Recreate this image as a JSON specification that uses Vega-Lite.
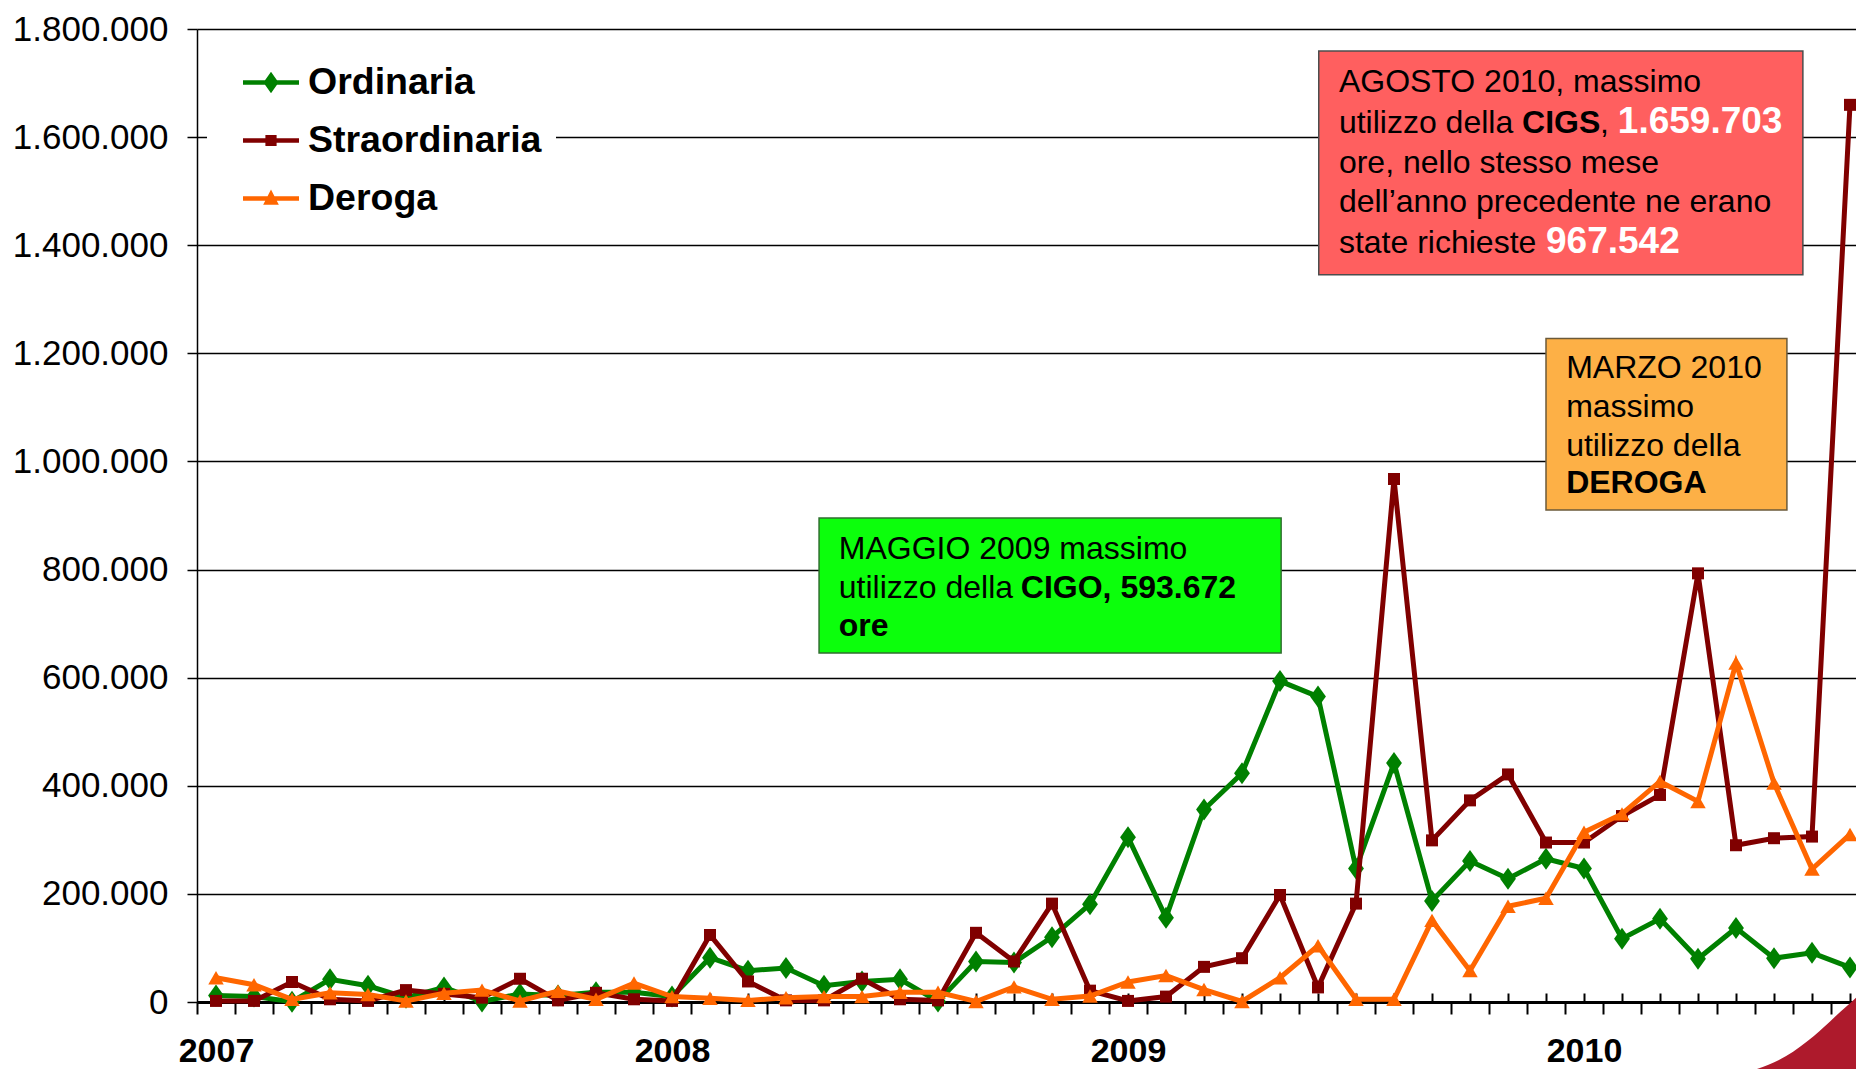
{
  "$schema": "https://vega.github.io/schema/vega-lite/v6.json",
  "width": 1659,
  "height": 973,
  "autosize": {"type": "none"},
  "padding": {"left": 197, "top": 29, "right": 0, "bottom": 67},
  "background": "white",
  "config": {
    "locale": {"number": {"decimal": ",", "thousands": ".", "grouping": [3], "currency": ["€", ""]}},
    "view": {"stroke": null},
    "font": "Liberation Sans"
  },
  "resolve": {"axis": {"x": "independent"}},
  "datasets": {
    "serie": [
      {"mese": 0, "tipo": "Ordinaria", "ore": 12000}, {"mese": 1, "tipo": "Ordinaria", "ore": 10000}, {"mese": 2, "tipo": "Ordinaria", "ore": 500}, {"mese": 3, "tipo": "Ordinaria", "ore": 42000}, {"mese": 4, "tipo": "Ordinaria", "ore": 30000}, {"mese": 5, "tipo": "Ordinaria", "ore": 8000}, {"mese": 6, "tipo": "Ordinaria", "ore": 27000}, {"mese": 7, "tipo": "Ordinaria", "ore": 1000}, {"mese": 8, "tipo": "Ordinaria", "ore": 15000}, {"mese": 9, "tipo": "Ordinaria", "ore": 12000}, {"mese": 10, "tipo": "Ordinaria", "ore": 18000}, {"mese": 11, "tipo": "Ordinaria", "ore": 18000},
      {"mese": 12, "tipo": "Ordinaria", "ore": 10000}, {"mese": 13, "tipo": "Ordinaria", "ore": 82000}, {"mese": 14, "tipo": "Ordinaria", "ore": 58000}, {"mese": 15, "tipo": "Ordinaria", "ore": 63000}, {"mese": 16, "tipo": "Ordinaria", "ore": 30000}, {"mese": 17, "tipo": "Ordinaria", "ore": 38000}, {"mese": 18, "tipo": "Ordinaria", "ore": 42000}, {"mese": 19, "tipo": "Ordinaria", "ore": 1000}, {"mese": 20, "tipo": "Ordinaria", "ore": 75000}, {"mese": 21, "tipo": "Ordinaria", "ore": 73000}, {"mese": 22, "tipo": "Ordinaria", "ore": 120000}, {"mese": 23, "tipo": "Ordinaria", "ore": 181000},
      {"mese": 24, "tipo": "Ordinaria", "ore": 305000}, {"mese": 25, "tipo": "Ordinaria", "ore": 156000}, {"mese": 26, "tipo": "Ordinaria", "ore": 356000}, {"mese": 27, "tipo": "Ordinaria", "ore": 423000}, {"mese": 28, "tipo": "Ordinaria", "ore": 593672}, {"mese": 29, "tipo": "Ordinaria", "ore": 565000}, {"mese": 30, "tipo": "Ordinaria", "ore": 247000}, {"mese": 31, "tipo": "Ordinaria", "ore": 442000}, {"mese": 32, "tipo": "Ordinaria", "ore": 187000}, {"mese": 33, "tipo": "Ordinaria", "ore": 261000}, {"mese": 34, "tipo": "Ordinaria", "ore": 228000}, {"mese": 35, "tipo": "Ordinaria", "ore": 265000},
      {"mese": 36, "tipo": "Ordinaria", "ore": 247000}, {"mese": 37, "tipo": "Ordinaria", "ore": 117000}, {"mese": 38, "tipo": "Ordinaria", "ore": 154000}, {"mese": 39, "tipo": "Ordinaria", "ore": 80000}, {"mese": 40, "tipo": "Ordinaria", "ore": 137000}, {"mese": 41, "tipo": "Ordinaria", "ore": 81000}, {"mese": 42, "tipo": "Ordinaria", "ore": 91000}, {"mese": 43, "tipo": "Ordinaria", "ore": 64000},
      {"mese": 0, "tipo": "Straordinaria", "ore": 2000}, {"mese": 1, "tipo": "Straordinaria", "ore": 2000}, {"mese": 2, "tipo": "Straordinaria", "ore": 37000}, {"mese": 3, "tipo": "Straordinaria", "ore": 5000}, {"mese": 4, "tipo": "Straordinaria", "ore": 2000}, {"mese": 5, "tipo": "Straordinaria", "ore": 22000}, {"mese": 6, "tipo": "Straordinaria", "ore": 15000}, {"mese": 7, "tipo": "Straordinaria", "ore": 8000}, {"mese": 8, "tipo": "Straordinaria", "ore": 43000}, {"mese": 9, "tipo": "Straordinaria", "ore": 3000}, {"mese": 10, "tipo": "Straordinaria", "ore": 17000}, {"mese": 11, "tipo": "Straordinaria", "ore": 5000},
      {"mese": 12, "tipo": "Straordinaria", "ore": 2000}, {"mese": 13, "tipo": "Straordinaria", "ore": 124000}, {"mese": 14, "tipo": "Straordinaria", "ore": 38000}, {"mese": 15, "tipo": "Straordinaria", "ore": 3000}, {"mese": 16, "tipo": "Straordinaria", "ore": 3000}, {"mese": 17, "tipo": "Straordinaria", "ore": 43000}, {"mese": 18, "tipo": "Straordinaria", "ore": 5000}, {"mese": 19, "tipo": "Straordinaria", "ore": 3000}, {"mese": 20, "tipo": "Straordinaria", "ore": 128000}, {"mese": 21, "tipo": "Straordinaria", "ore": 75000}, {"mese": 22, "tipo": "Straordinaria", "ore": 182000}, {"mese": 23, "tipo": "Straordinaria", "ore": 21000},
      {"mese": 24, "tipo": "Straordinaria", "ore": 2000}, {"mese": 25, "tipo": "Straordinaria", "ore": 10000}, {"mese": 26, "tipo": "Straordinaria", "ore": 65000}, {"mese": 27, "tipo": "Straordinaria", "ore": 81000}, {"mese": 28, "tipo": "Straordinaria", "ore": 198000}, {"mese": 29, "tipo": "Straordinaria", "ore": 27000}, {"mese": 30, "tipo": "Straordinaria", "ore": 182000}, {"mese": 31, "tipo": "Straordinaria", "ore": 967542}, {"mese": 32, "tipo": "Straordinaria", "ore": 299000}, {"mese": 33, "tipo": "Straordinaria", "ore": 373000}, {"mese": 34, "tipo": "Straordinaria", "ore": 421000}, {"mese": 35, "tipo": "Straordinaria", "ore": 295000},
      {"mese": 36, "tipo": "Straordinaria", "ore": 295000}, {"mese": 37, "tipo": "Straordinaria", "ore": 344000}, {"mese": 38, "tipo": "Straordinaria", "ore": 383000}, {"mese": 39, "tipo": "Straordinaria", "ore": 793000}, {"mese": 40, "tipo": "Straordinaria", "ore": 290000}, {"mese": 41, "tipo": "Straordinaria", "ore": 303000}, {"mese": 42, "tipo": "Straordinaria", "ore": 306000}, {"mese": 43, "tipo": "Straordinaria", "ore": 1659703},
      {"mese": 0, "tipo": "Deroga", "ore": 45000}, {"mese": 1, "tipo": "Deroga", "ore": 32000}, {"mese": 2, "tipo": "Deroga", "ore": 5000}, {"mese": 3, "tipo": "Deroga", "ore": 17000}, {"mese": 4, "tipo": "Deroga", "ore": 14000}, {"mese": 5, "tipo": "Deroga", "ore": 2000}, {"mese": 6, "tipo": "Deroga", "ore": 16000}, {"mese": 7, "tipo": "Deroga", "ore": 22000}, {"mese": 8, "tipo": "Deroga", "ore": 2000}, {"mese": 9, "tipo": "Deroga", "ore": 20000}, {"mese": 10, "tipo": "Deroga", "ore": 5000}, {"mese": 11, "tipo": "Deroga", "ore": 35000},
      {"mese": 12, "tipo": "Deroga", "ore": 10000}, {"mese": 13, "tipo": "Deroga", "ore": 7000}, {"mese": 14, "tipo": "Deroga", "ore": 3000}, {"mese": 15, "tipo": "Deroga", "ore": 8000}, {"mese": 16, "tipo": "Deroga", "ore": 10000}, {"mese": 17, "tipo": "Deroga", "ore": 10000}, {"mese": 18, "tipo": "Deroga", "ore": 18000}, {"mese": 19, "tipo": "Deroga", "ore": 18000}, {"mese": 20, "tipo": "Deroga", "ore": 1000}, {"mese": 21, "tipo": "Deroga", "ore": 28000}, {"mese": 22, "tipo": "Deroga", "ore": 5000}, {"mese": 23, "tipo": "Deroga", "ore": 11000},
      {"mese": 24, "tipo": "Deroga", "ore": 37000}, {"mese": 25, "tipo": "Deroga", "ore": 49000}, {"mese": 26, "tipo": "Deroga", "ore": 23000}, {"mese": 27, "tipo": "Deroga", "ore": 1000}, {"mese": 28, "tipo": "Deroga", "ore": 45000}, {"mese": 29, "tipo": "Deroga", "ore": 104000}, {"mese": 30, "tipo": "Deroga", "ore": 5000}, {"mese": 31, "tipo": "Deroga", "ore": 5000}, {"mese": 32, "tipo": "Deroga", "ore": 151000}, {"mese": 33, "tipo": "Deroga", "ore": 58000}, {"mese": 34, "tipo": "Deroga", "ore": 177000}, {"mese": 35, "tipo": "Deroga", "ore": 192000},
      {"mese": 36, "tipo": "Deroga", "ore": 314000}, {"mese": 37, "tipo": "Deroga", "ore": 348000}, {"mese": 38, "tipo": "Deroga", "ore": 408000}, {"mese": 39, "tipo": "Deroga", "ore": 371000}, {"mese": 40, "tipo": "Deroga", "ore": 627000}, {"mese": 41, "tipo": "Deroga", "ore": 405000}, {"mese": 42, "tipo": "Deroga", "ore": 246000}, {"mese": 43, "tipo": "Deroga", "ore": 310000}
    ]
  },
  "layer": [
    {
      "data": {"name": "serie"},
      "transform": [{"filter": "datum.tipo === 'Ordinaria'"}],
      "mark": {"type": "line", "strokeWidth": 5},
      "encoding": {
        "x": {
          "field": "mese", "type": "quantitative",
          "scale": {"domain": [-0.5, 43.158], "nice": false, "zero": false},
          "axis": {
            "orient": "bottom",
            "title": null,
            "values": [-0.5, 0.5, 1.5, 2.5, 3.5, 4.5, 5.5, 6.5, 7.5, 8.5, 9.5, 10.5, 11.5, 12.5, 13.5, 14.5, 15.5, 16.5, 17.5, 18.5, 19.5, 20.5, 21.5, 22.5, 23.5, 24.5, 25.5, 26.5, 27.5, 28.5, 29.5, 30.5, 31.5, 32.5, 33.5, 34.5, 35.5, 36.5, 37.5, 38.5, 39.5, 40.5, 41.5, 42.5],
            "labelExpr": "datum.value === -0.5 ? '2007' : datum.value === 11.5 ? '2008' : datum.value === 23.5 ? '2009' : datum.value === 35.5 ? '2010' : ''",
            "labelOffset": 19,
            "tickSize": 12,
            "tickWidth": 2,
            "tickColor": "black",
            "domainColor": "black",
            "domainWidth": 3,
            "labelFontSize": 34,
            "labelFontWeight": "bold",
            "labelColor": "black",
            "labelFont": "Liberation Sans",
            "labelPadding": 37,
            "labelBaseline": "middle",
            "labelAlign": "center",
            "labelOverlap": false,
            "labelFlush": false,
            "labelBound": false,
            "grid": false
          }
        },
        "y": {
          "field": "ore", "type": "quantitative",
          "scale": {"domain": [0, 1800000], "nice": false},
          "axis": {
            "title": null,
            "values": [0, 200000, 400000, 600000, 800000, 1000000, 1200000, 1400000, 1600000, 1800000],
            "format": ",d",
            "labelFontSize": 35,
            "labelColor": "black",
            "labelFont": "Liberation Sans",
            "tickSize": 10,
            "tickColor": "black",
            "tickWidth": 1.5,
            "labelPadding": 19,
            "domainColor": "black",
            "domainWidth": 1.5,
            "grid": true,
            "gridColor": "black",
            "gridWidth": 1.5,
            "gridOpacity": 1
          }
        },
        "color": {
          "field": "tipo", "type": "nominal",
          "scale": {"domain": ["Ordinaria", "Straordinaria", "Deroga"], "range": ["#008000", "#800000", "#FF6600"]},
          "legend": {
            "title": null,
            "orient": "none",
            "legendX": 10,
            "legendY": 11.5,
            "padding": 14,
            "fillColor": "white",
            "symbolOffset": 22,
            "symbolSize": 3136,
            "labelFontSize": 37.5,
            "labelFontWeight": "bold",
            "labelFont": "Liberation Sans",
            "labelColor": "black",
            "labelOffset": 9,
            "labelLimit": 400,
            "rowPadding": 11,
            "symbolStrokeWidth": 0,
            "encode": {
              "symbols": {
                "update": {
                  "shape": {"signal": "datum.value === 'Ordinaria' ? 'M-1,-0.08H1V0.08H-1Z M0,-0.38L0.27,0L0,0.38L-0.27,0Z' : datum.value === 'Straordinaria' ? 'M-1,-0.08H1V0.08H-1Z M-0.2,-0.2H0.2V0.2H-0.2Z' : 'M-1,-0.08H1V0.08H-1Z M0,-0.32L0.28,0.22H-0.28Z'"},
                  "fill": {"scale": "color", "field": "value"},
                  "fillOpacity": {"value": 1},
                  "opacity": {"value": 1},
                  "strokeWidth": {"value": 0}
                }
              }
            }
          }
        }
      }
    },
    {
      "data": {"name": "serie"},
      "transform": [{"filter": "datum.tipo === 'Ordinaria'"}],
      "mark": {"type": "point", "filled": true, "opacity": 1, "shape": "M0,-1L0.72,0L0,1L-0.72,0Z", "size": 484},
      "encoding": {
        "x": {
          "field": "mese", "type": "quantitative",
          "axis": {
            "orient": "top",
            "offset": -973,
            "title": null,
            "values": [0, 1, 2, 3, 4, 5, 6, 7, 8, 9, 10, 11, 12, 13, 14, 15, 16, 17, 18, 19, 20, 21, 22, 23, 24, 25, 26, 27, 28, 29, 30, 31, 32, 33, 34, 35, 36, 37, 38, 39, 40, 41, 42, 43],
            "labels": false,
            "domain": false,
            "grid": false,
            "tickSize": 9,
            "tickWidth": 2,
            "tickColor": "black"
          }
        },
        "y": {"field": "ore", "type": "quantitative", "title": null},
        "color": {"field": "tipo", "type": "nominal"}
      }
    },
    {
      "data": {"name": "serie"},
      "transform": [{"filter": "datum.tipo === 'Straordinaria'"}],
      "mark": {"type": "line", "strokeWidth": 5},
      "encoding": {
        "x": {"field": "mese", "type": "quantitative", "axis": null},
        "y": {"field": "ore", "type": "quantitative", "title": null},
        "color": {"field": "tipo", "type": "nominal"}
      }
    },
    {
      "data": {"name": "serie"},
      "transform": [{"filter": "datum.tipo === 'Straordinaria'"}],
      "mark": {"type": "point", "filled": true, "opacity": 1, "shape": "square", "size": 144},
      "encoding": {
        "x": {"field": "mese", "type": "quantitative", "axis": null},
        "y": {"field": "ore", "type": "quantitative", "title": null},
        "color": {"field": "tipo", "type": "nominal"}
      }
    },
    {
      "data": {"name": "serie"},
      "transform": [{"filter": "datum.tipo === 'Deroga'"}],
      "mark": {"type": "line", "strokeWidth": 5},
      "encoding": {
        "x": {"field": "mese", "type": "quantitative", "axis": null},
        "y": {"field": "ore", "type": "quantitative", "title": null},
        "color": {"field": "tipo", "type": "nominal"}
      }
    },
    {
      "data": {"name": "serie"},
      "transform": [{"filter": "datum.tipo === 'Deroga'"}],
      "mark": {"type": "point", "filled": true, "opacity": 1, "shape": "triangle-up", "size": 240},
      "encoding": {
        "x": {"field": "mese", "type": "quantitative", "axis": null},
        "y": {"field": "ore", "type": "quantitative", "title": null},
        "color": {"field": "tipo", "type": "nominal"}
      }
    },
    {
      "data": {"values": [{"x1": 15.87, "x2": 28.03, "y1": 645600, "y2": 895300}]},
      "mark": {"type": "rect", "fill": "#0CFF0C", "stroke": "#2F6F2F", "strokeWidth": 1.5},
      "encoding": {
        "x": {"field": "x1", "type": "quantitative", "axis": null},
        "x2": {"field": "x2"},
        "y": {"field": "y1", "type": "quantitative", "title": null},
        "y2": {"field": "y2"}
      }
    },
    {
      "data": {"values": [{"x1": 29.02, "x2": 41.76, "y1": 1345600, "y2": 1759300}]},
      "mark": {"type": "rect", "fill": "#FF5F5F", "stroke": "#4D4D4D", "strokeWidth": 1.5},
      "encoding": {
        "x": {"field": "x1", "type": "quantitative", "axis": null},
        "x2": {"field": "x2"},
        "y": {"field": "y1", "type": "quantitative", "title": null},
        "y2": {"field": "y2"}
      }
    },
    {
      "data": {"values": [{"x1": 35.0, "x2": 41.34, "y1": 910200, "y2": 1227400}]},
      "mark": {"type": "rect", "fill": "#FDB046", "stroke": "#6B5A3A", "strokeWidth": 1.5},
      "encoding": {
        "x": {"field": "x1", "type": "quantitative", "axis": null},
        "x2": {"field": "x2"},
        "y": {"field": "y1", "type": "quantitative", "title": null},
        "y2": {"field": "y2"}
      }
    },
    {
      "data": {"values": [
        {"x": 40.55, "y": -124000},
        {"x": 41.32, "y": -100000},
        {"x": 42.05, "y": -63000},
        {"x": 42.74, "y": -18500},
        {"x": 43.158, "y": 8000}
      ]},
      "mark": {"type": "area", "color": "#AE1A2C", "clip": false, "interpolate": "monotone"},
      "encoding": {
        "x": {"field": "x", "type": "quantitative", "axis": null},
        "y": {"field": "y", "type": "quantitative", "title": null},
        "y2": {"datum": -124000}
      }
    },
    {
      "data": {"values": [
        {"x": 16.39, "y": 819600, "testo": "MAGGIO 2009 massimo"},
        {"x": 16.39, "y": 747400, "testo": "utilizzo della"},
        {"x": 29.55, "y": 1684100, "testo": "AGOSTO 2010, massimo"},
        {"x": 29.55, "y": 1607700, "testo": "utilizzo della"},
        {"x": 36.42, "y": 1607700, "testo": ","},
        {"x": 29.55, "y": 1533700, "testo": "ore, nello stesso mese"},
        {"x": 29.55, "y": 1461600, "testo": "dell’anno precedente ne erano"},
        {"x": 29.55, "y": 1385700, "testo": "state richieste"},
        {"x": 35.53, "y": 1154500, "testo": "MARZO 2010"},
        {"x": 35.53, "y": 1082300, "testo": "massimo"},
        {"x": 35.53, "y": 1010200, "testo": "utilizzo della"}
      ]},
      "mark": {"type": "text", "align": "left", "baseline": "alphabetic", "fontSize": 32, "font": "Liberation Sans", "color": "black"},
      "encoding": {
        "x": {"field": "x", "type": "quantitative", "axis": null},
        "y": {"field": "y", "type": "quantitative", "title": null},
        "text": {"field": "testo"}
      }
    },
    {
      "data": {"values": [
        {"x": 21.18, "y": 747400, "testo": "CIGO, 593.672"},
        {"x": 16.39, "y": 677100, "testo": "ore"},
        {"x": 34.37, "y": 1607700, "testo": "CIGS"},
        {"x": 35.53, "y": 941700, "testo": "DEROGA"}
      ]},
      "mark": {"type": "text", "align": "left", "baseline": "alphabetic", "fontSize": 32, "fontWeight": "bold", "font": "Liberation Sans", "color": "black"},
      "encoding": {
        "x": {"field": "x", "type": "quantitative", "axis": null},
        "y": {"field": "y", "type": "quantitative", "title": null},
        "text": {"field": "testo"}
      }
    },
    {
      "data": {"values": [
        {"x": 36.89, "y": 1607700, "testo": "1.659.703"},
        {"x": 35.0, "y": 1385700, "testo": "967.542"}
      ]},
      "mark": {"type": "text", "align": "left", "baseline": "alphabetic", "fontSize": 37, "fontWeight": "bold", "font": "Liberation Sans", "color": "white"},
      "encoding": {
        "x": {"field": "x", "type": "quantitative", "axis": null},
        "y": {"field": "y", "type": "quantitative", "title": null},
        "text": {"field": "testo"}
      }
    }
  ]
}
